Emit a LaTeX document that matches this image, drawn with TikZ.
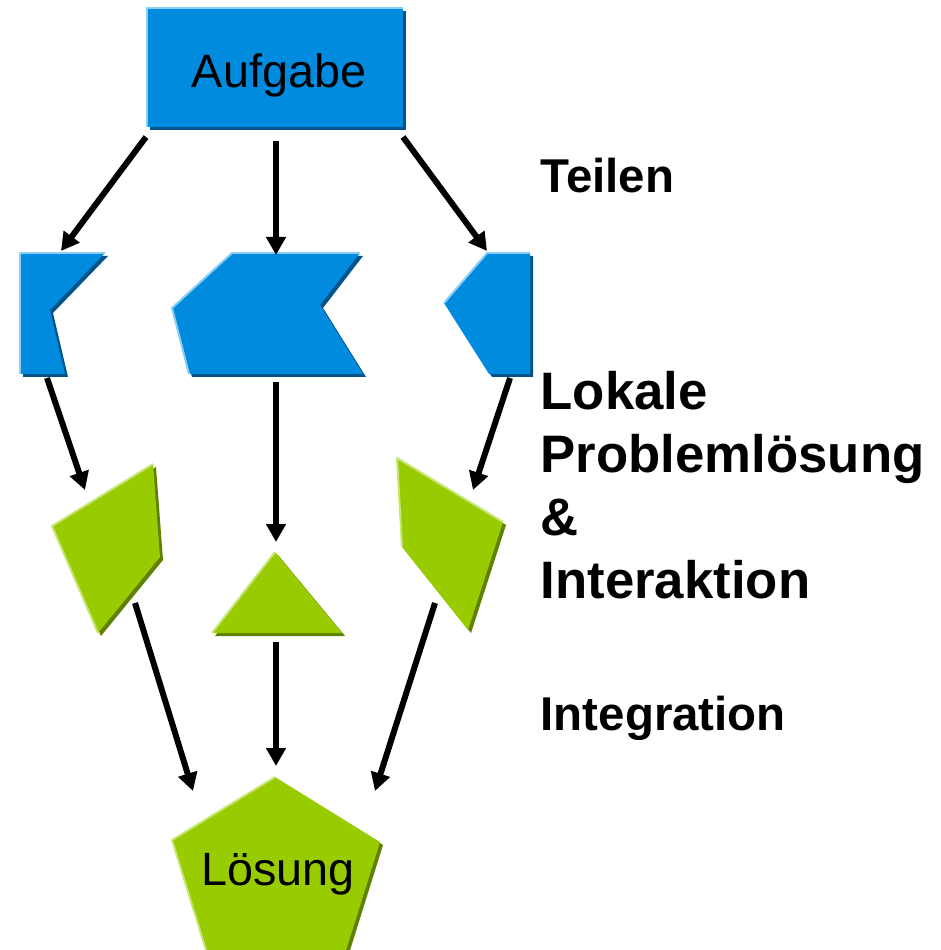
\documentclass[tikz,border=0pt]{standalone}
\usepackage{fontspec}
\setmainfont{Liberation Sans}
\usepackage{xcolor}
\definecolor{tileblue}{HTML}{008BDE}
\definecolor{tileblueshade}{HTML}{00548C}
\definecolor{tilebluelight}{HTML}{8CCDF5}
\definecolor{tilegreen}{HTML}{99CC00}
\definecolor{tilegreenshade}{HTML}{5F8000}
\definecolor{tilegreenlight}{HTML}{C8E678}
\usetikzlibrary{arrows.meta}
% shadow copy, then the piece itself
\newcommand{\tile}[3]{%
  \fill[#2, shift={(3,3)}] #3 -- cycle;
  \fill[#1] #3 -- cycle;
}

\begin{document}
\begin{tikzpicture}[
  x=0.1mm, y=-0.1mm,
  flow/.style={line width=1.7pt, -{Triangle[length=1.8mm, width=1.9mm]}},
  hilite/.style={line width=0.2mm, line join=round},
  shapetext/.style={font=\fontsize{13.3}{16}\selectfont, anchor=base, inner sep=0},
  steptext/.style={font=\bfseries\fontsize{13.5}{16}\selectfont, anchor=base west, inner sep=0},
]
\clip (0,0) rectangle (940,950);
\useasboundingbox (0,0) rectangle (940,950);

% Aufgabe
\tile{tileblue}{tileblueshade}{(147,8) -- (403,8) -- (403,127) -- (147,127)}
\draw[hilite, tilebluelight] (147,127) -- (147,8) -- (403,8);
\node[shapetext] (aufgabe) at (279,88) {Aufgabe};

% Teilaufgaben
\tile{tileblue}{tileblueshade}{(20,253) -- (105,253) -- (50,310) -- (65,374) -- (20,374)}
\draw[hilite, tilebluelight] (20,374) -- (20,253) -- (105,253);
\tile{tileblue}{tileblueshade}{(172,308) -- (232,253) -- (360,253) -- (320,305) -- (363,374) -- (189,374)}
\draw[hilite, tilebluelight] (189,374) -- (172,308) -- (232,253) -- (360,253);
\tile{tileblue}{tileblueshade}{(444,303) -- (487,253) -- (530,253) -- (530,374) -- (489,374)}
\draw[hilite, tilebluelight] (444,303) -- (487,253) -- (530,253);

% Teilloesungen
\tile{tilegreen}{tilegreenshade}{(52,526) -- (153,464) -- (160,557) -- (98,633)}
\draw[hilite, tilegreenlight] (98,633) -- (52,526) -- (153,464);
\tile{tilegreen}{tilegreenshade}{(275,552) -- (342,633) -- (212,633)}
\draw[hilite, tilegreenlight] (212,633) -- (275,552);
\tile{tilegreen}{tilegreenshade}{(397,458) -- (503,522) -- (468,630) -- (402,547)}
\draw[hilite, tilegreenlight] (402,547) -- (397,458) -- (503,522);

% Loesung
\tile{tilegreen}{tilegreenshade}{(275,777) -- (380,842) -- (338,976) -- (214,976) -- (172,840)}
\draw[hilite, tilegreenlight] (214,976) -- (172,840) -- (275,777);
\node[shapetext] (loesung) at (278,885) {Lösung};

% Anschlusspunkte
\coordinate (aufgabe-l) at (146,137);
\coordinate (aufgabe-m) at (276,141);
\coordinate (aufgabe-r) at (403,137);
\coordinate (teil1-in) at (61,251);
\coordinate (teil2-in) at (276,255);
\coordinate (teil3-in) at (487,251);
\coordinate (teil1-out) at (47,378);
\coordinate (teil2-out) at (276,382);
\coordinate (teil3-out) at (510,378);
\coordinate (loes1-in) at (85,490);
\coordinate (loes2-in) at (276,542);
\coordinate (loes3-in) at (473,490);
\coordinate (loes1-out) at (135,603);
\coordinate (loes2-out) at (276,642);
\coordinate (loes3-out) at (435,603);
\coordinate (loesung-l) at (193,791);
\coordinate (loesung-m) at (276,766);
\coordinate (loesung-r) at (375,791);

% Pfeile
\foreach \from/\to in {aufgabe-l/teil1-in, aufgabe-m/teil2-in, aufgabe-r/teil3-in,
    teil1-out/loes1-in, teil2-out/loes2-in, teil3-out/loes3-in,
    loes1-out/loesung-l, loes2-out/loesung-m, loes3-out/loesung-r}
  \draw[flow] (\from) -- (\to);

% Phasen
\node[steptext] (teilen) at (540,193) {Teilen};
\node[steptext, font=\bfseries\fontsize{15}{17.9}\selectfont, align=left] (lokal) at (540,598)
  {Lokale\\Problemlösung\\\&\\Interaktion};
\node[steptext] (integration) at (540,730) {Integration};

\end{tikzpicture}
\end{document}
